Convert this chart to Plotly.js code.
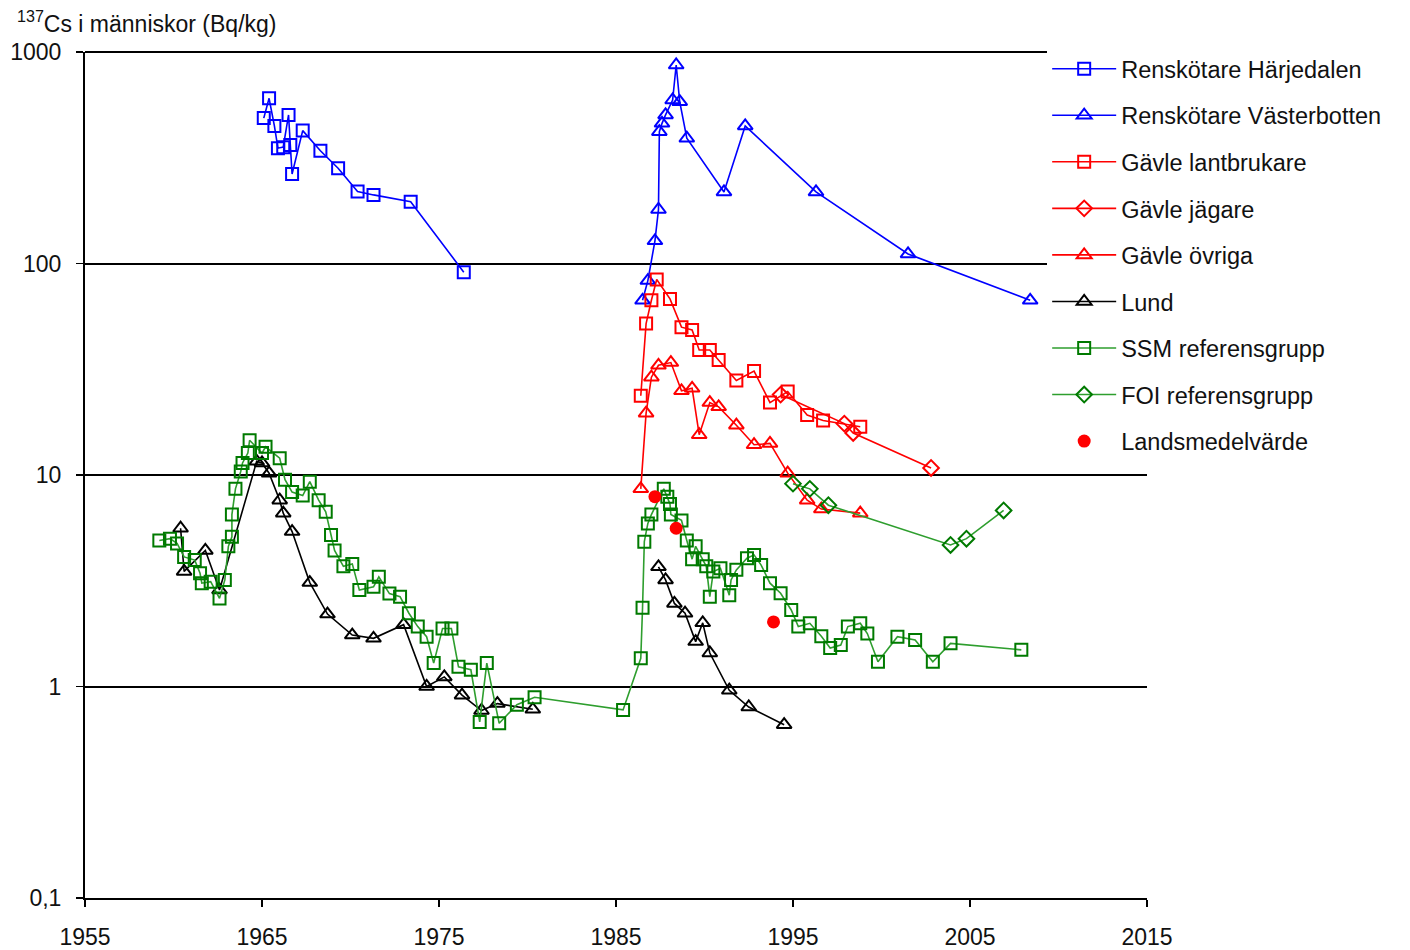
<!DOCTYPE html>
<html>
<head>
<meta charset="utf-8">
<script src="https://cdn.plot.ly/plotly-3.0.1.min.js"></script>
<style>html,body{margin:0;padding:0;background:#fff;}#chart{width:1410px;height:950px;}</style>
</head>
<body>
<div id="chart"></div>
<script>
// ---- Data ----
const harjedalenYears = [1965.1, 1965.4, 1965.7, 1965.9, 1966.2, 1966.5, 1966.6, 1966.7, 1967.3, 1968.3, 1969.3, 1970.4, 1971.3, 1973.4, 1976.4];
const harjedalenVals  = [487, 604, 447, 351, 355, 504, 363, 265, 425, 341, 282, 219, 211, 196, 91];

const vasterbottenYears = [1986.5, 1986.8, 1987.2, 1987.4, 1987.45, 1987.6, 1987.8, 1988.2, 1988.4, 1988.6, 1989.0, 1991.1, 1992.3, 1996.3, 2001.5, 2008.4];
const vasterbottenVals  = [67, 83, 128, 180, 420, 460, 504, 593, 868, 582, 391, 218, 447, 218, 111, 67];

const lantbrukareYears = [1986.4, 1986.7, 1987.0, 1987.3, 1988.05, 1988.7, 1989.3, 1989.7, 1990.3, 1990.8, 1991.8, 1992.8, 1993.7, 1994.7, 1995.8, 1996.7, 1998.8];
const lantbrukareVals  = [23.7, 52, 67, 84, 68, 50, 48.5, 39, 39, 35, 28, 31, 22, 24.8, 19.2, 18.1, 16.9];

const jagareYears = [1994.3, 1997.9, 1998.4, 2002.8];
const jagareVals  = [24, 17.5, 15.8, 10.8];

const ovrigaYears = [1986.4, 1986.7, 1987.0, 1987.4, 1988.1, 1988.7, 1989.3, 1989.7, 1990.3, 1990.8, 1991.8, 1992.8, 1993.7, 1994.7, 1995.8, 1996.6, 1998.8];
const ovrigaVals  = [8.6, 19.6, 29, 33, 34, 25, 25.7, 15.5, 22, 21, 17.2, 13.9, 14.1, 10.2, 7.6, 6.9, 6.6];

const lundYears = [1960.4, 1960.6, 1961.8, 1962.6, 1964.7, 1965.0, 1965.4, 1966.0, 1966.2, 1966.7, 1967.7, 1968.7, 1970.1, 1971.3, 1973.0, 1974.3, 1975.3, 1976.3, 1977.4, 1978.3, 1980.3, null,
                   1987.4, 1987.8, 1988.3, 1988.9, 1989.5, 1989.9, 1990.3, 1991.4, 1992.5, 1994.5];
const lundVals  = [5.6, 3.5, 4.4, 2.86, 11.6, 11.4, 10.2, 7.6, 6.6, 5.4, 3.1, 2.2, 1.75, 1.69, 1.96, 1.0, 1.11, 0.91, 0.77, 0.83, 0.78, null,
                   3.68, 3.19, 2.47, 2.22, 1.63, 2.0, 1.44, 0.96, 0.80, 0.66];

const ssmYears = [1959.2, 1959.8, 1960.2, 1960.6, 1961.2, 1961.5, 1961.6, 1962.1, 1962.6, 1962.9, 1963.1, 1963.3, 1963.3, 1963.5, 1963.8, 1963.9, 1964.2, 1964.3, 1965.0, 1965.2,
                  1966.0, 1966.3, 1966.7, 1967.3, 1967.7, 1968.2, 1968.6, 1968.9, 1969.1, 1969.6, 1970.1, 1970.5, 1971.3, 1971.6, 1972.2, 1972.8, 1973.3, 1973.8, 1974.3, 1974.7,
                  1975.2, 1975.7, 1976.1, 1976.8, 1977.3, 1977.7, 1978.4, 1979.4, 1980.4, 1985.4, 1986.4, 1986.5, 1986.6, 1986.8, 1987.0, 1987.7, 1987.9, 1988.05, 1988.1, 1988.7,
                  1989.0, 1989.3, 1989.5, 1989.9, 1990.1, 1990.3, 1990.5, 1990.9, 1991.4, 1991.5, 1991.8, 1992.4, 1992.8, 1993.2, 1993.7, 1994.3, 1994.9, 1995.3, 1995.95, 1996.6,
                  1997.1, 1997.7, 1998.1, 1998.8, 1999.2, 1999.8, 2000.9, 2001.9, 2002.9, 2003.9, 2007.9];
const ssmVals  = [4.9, 5.0, 4.75, 4.1, 3.96, 3.43, 3.08, 3.13, 2.61, 3.19, 4.6, 5.1, 6.5, 8.6, 10.4, 11.4, 12.7, 14.6, 12.7, 13.6,
                  12.0, 9.5, 8.3, 8.0, 9.3, 7.6, 6.7, 5.2, 4.4, 3.7, 3.8, 2.86, 2.96, 3.3, 2.75, 2.66, 2.22, 1.92, 1.72, 1.29,
                  1.88, 1.88, 1.24, 1.2, 0.68, 1.29, 0.67, 0.82, 0.89, 0.775, 1.36, 2.36, 4.84, 5.9, 6.5, 8.6, 7.9, 7.3, 6.5, 6.1,
                  4.9, 4.0, 4.6, 4.0, 3.7, 2.66, 3.5, 3.62, 2.7, 3.19, 3.56, 4.04, 4.19, 3.75, 3.08, 2.76, 2.3, 1.92, 1.99, 1.73,
                  1.52, 1.57, 1.92, 1.99, 1.78, 1.31, 1.72, 1.66, 1.31, 1.60, 1.49];

const foiYears = [1995.0, 1995.95, 1997.0, 2003.9, 2004.8, 2006.9];
const foiVals  = [9.1, 8.6, 7.2, 4.67, 5.0, 6.8];

const landsYears = [1987.2, 1988.4, 1993.9];
const landsVals  = [7.9, 5.6, 2.02];

const xTicks = [1955, 1965, 1975, 1985, 1995, 2005, 2015];
const yTickVals = [0.1, 1, 10, 100, 1000];
const yTickText = ['0,1', '1', '10', '100', '1000'];

const seriesNames = ['Renskötare Härjedalen', 'Renskötare Västerbotten', 'Gävle lantbrukare', 'Gävle jägare', 'Gävle övriga', 'Lund', 'SSM referensgrupp', 'FOI referensgrupp', 'Landsmedelvärde'];

// ---- Styling ----
const FONT = 'Liberation Sans, Arial, sans-serif';
function lineTrace(i, xs, ys, lineColor, markerColor, symbol, size) {
  return {
    type: 'scatter', mode: 'lines+markers', name: seriesNames[i], x: xs, y: ys,
    legendgroup: 'g' + i, connectgaps: false,
    line: {color: lineColor, width: 1.6},
    marker: {symbol: symbol, size: size, color: markerColor, line: {color: markerColor, width: 2}},
    cliponaxis: false
  };
}
const BLUE = '#0000FF', RED = '#FF0000', BLACK = '#000000', GREEN_L = '#2E9E2E', GREEN_M = '#007A00';
const traces = [
  lineTrace(0, harjedalenYears, harjedalenVals, BLUE, BLUE, 'square-open', 12),
  lineTrace(1, vasterbottenYears, vasterbottenVals, BLUE, BLUE, 'triangle-up-open', 13),
  lineTrace(2, lantbrukareYears, lantbrukareVals, RED, RED, 'square-open', 12),
  lineTrace(3, jagareYears, jagareVals, RED, RED, 'diamond-open', 12),
  lineTrace(4, ovrigaYears, ovrigaVals, RED, RED, 'triangle-up-open', 13),
  lineTrace(5, lundYears, lundVals, BLACK, BLACK, 'triangle-up-open', 13),
  lineTrace(6, ssmYears, ssmVals, GREEN_L, GREEN_M, 'square-open', 12),
  lineTrace(7, foiYears, foiVals, GREEN_L, GREEN_M, 'diamond-open', 12),
  {type: 'scatter', mode: 'markers', name: seriesNames[8], x: landsYears, y: landsVals, legendgroup: 'g8',
   marker: {symbol: 'circle', size: 13, color: RED, line: {width: 0}}}
];

const layout = {
  width: 1410, height: 950,
  paper_bgcolor: '#fff', plot_bgcolor: '#fff',
  margin: {l: 85, r: 263, t: 52, b: 52, pad: 0},
  font: {family: FONT, size: 23, color: '#111'},
  showlegend: true,
  legend: {
    x: 0.906, y: 1.006, xanchor: 'left', yanchor: 'top',
    bgcolor: '#fff', borderwidth: 0,
    font: {family: FONT, size: 23.5, color: '#111'},
    tracegroupgap: 13, traceorder: 'grouped', itemwidth: 64
  },
  xaxis: {
    range: [1955, 2015], tickvals: xTicks, ticktext: xTicks.map(String),
    showgrid: false, zeroline: false,
    showline: true, linecolor: '#000', linewidth: 2,
    ticks: 'outside', ticklen: 7, tickwidth: 1.5, tickcolor: '#000',
    ticklabelstandoff: 10,
    tickfont: {family: FONT, size: 23, color: '#111'}
  },
  yaxis: {
    type: 'log', range: [-1, 3],
    tickvals: yTickVals, ticktext: yTickText,
    showgrid: true, gridcolor: '#000', gridwidth: 2,
    zeroline: false,
    showline: true, linecolor: '#000', linewidth: 2,
    ticks: 'outside', ticklen: 7, tickwidth: 1.5, tickcolor: '#000',
    ticklabelstandoff: 10,
    tickfont: {family: FONT, size: 23, color: '#111'}
  },
  shapes: [{
    type: 'line', layer: 'below', xref: 'paper', yref: 'paper',
    x0: 0, x1: 1, y0: 1, y1: 1, line: {color: '#000', width: 2}
  }],
  annotations: [{
    xref: 'paper', yref: 'paper', x: -0.066, y: 1.0,
    xanchor: 'left', yanchor: 'bottom', yshift: 13, showarrow: false,
    text: '<sup>137</sup>Cs i människor (Bq/kg)',
    font: {family: FONT, size: 23, color: '#111'}
  }]
};

Plotly.newPlot('chart', traces, layout, {staticPlot: true, displayModeBar: false});
</script>
</body>
</html>
